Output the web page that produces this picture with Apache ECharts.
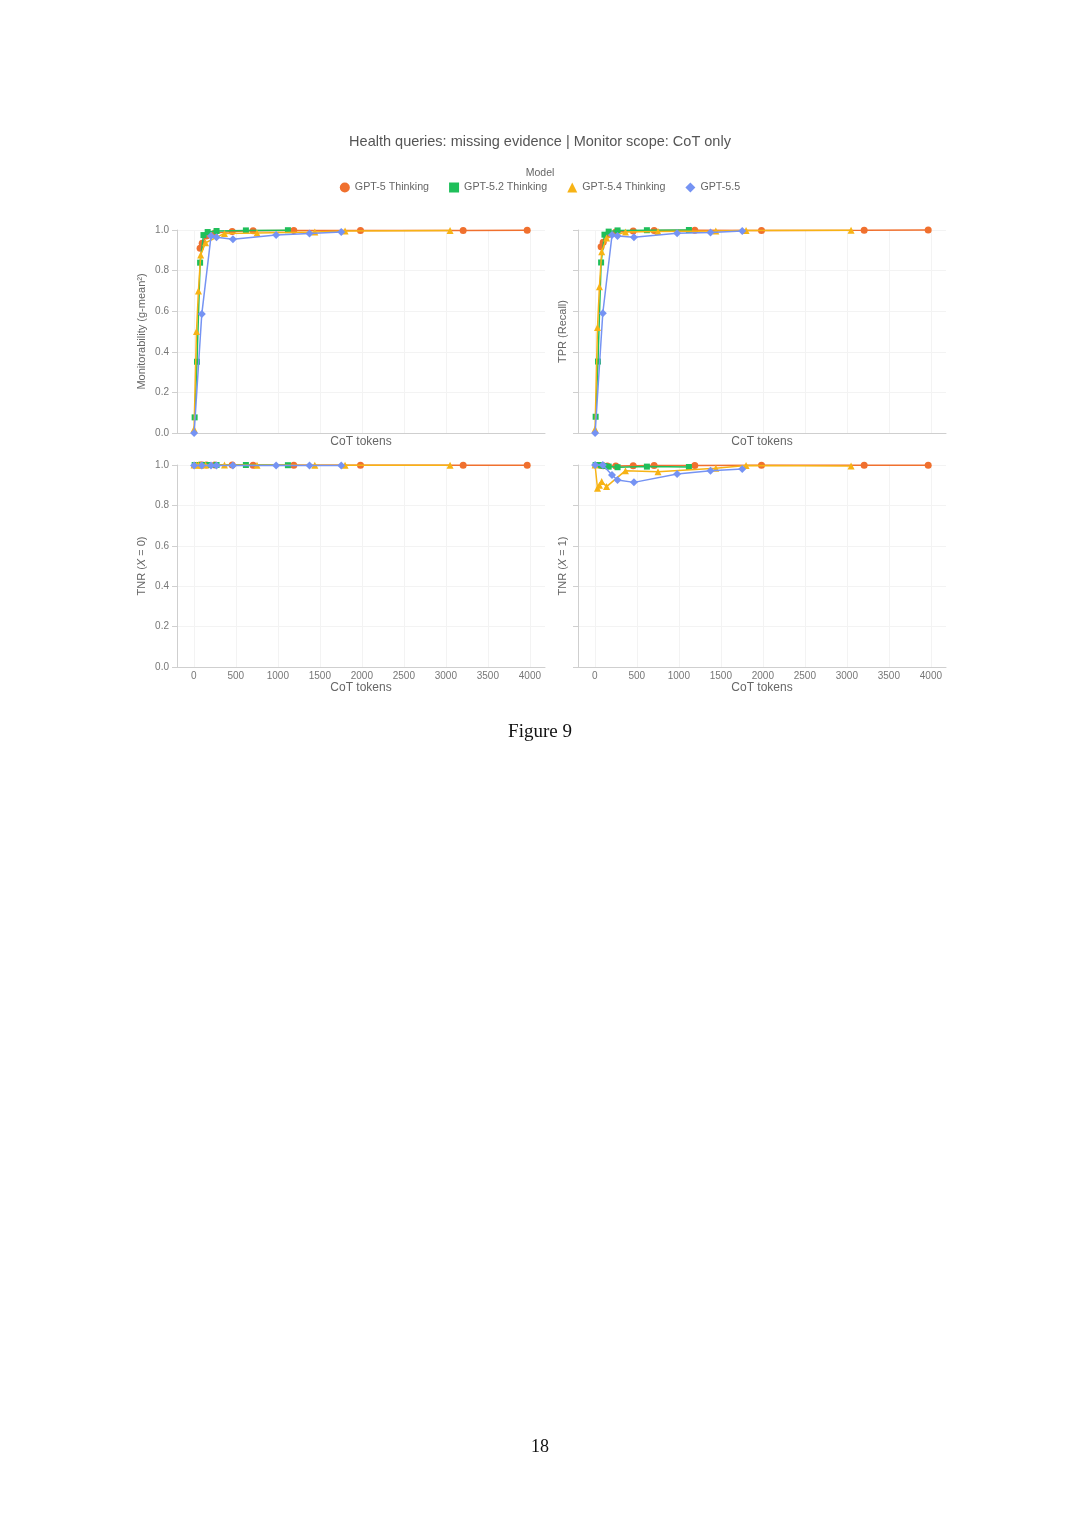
<!DOCTYPE html>
<html>
<head>
<meta charset="utf-8">
<script src="https://cdn.jsdelivr.net/npm/echarts@6/dist/echarts.min.js"></script>
<style>
html,body{margin:0;padding:0;background:#fff;}
#chart{width:1080px;height:1527px;}
</style>
</head>
<body>
<div id="chart"></div>
<script>
// ---- data ----
const modelNames = ['GPT-5 Thinking', 'GPT-5.2 Thinking', 'GPT-5.4 Thinking', 'GPT-5.5'];
const xTickValues = [0, 500, 1000, 1500, 2000, 2500, 3000, 3500, 4000];
const yTickValues = [0, 0.2, 0.4, 0.6, 0.8, 1.0];

// GPT-5 Thinking
const tokens5 = [75, 100, 150, 250, 457, 706, 1190, 1984, 3206, 3968];
const mon5    = [0.91, 0.935, 0.97, 0.985, 0.993, 0.996, 0.998, 0.997, 0.998, 0.999];
const tpr5    = [0.918, 0.94, 0.975, 0.99, 0.995, 0.998, 0.999, 0.998, 0.999, 1.0];
const tnr0_5  = [1.0, 1.0, 1.0, 1.0, 1.0, 0.999, 0.999, 0.999, 0.999, 0.999];
const tnr1_5  = [0.998, 0.996, 0.995, 0.995, 0.996, 0.997, 0.998, 0.999, 0.999, 0.999];

// GPT-5.2 Thinking
const tokens52 = [10, 38, 75, 115, 165, 271, 620, 1120];
const mon52    = [0.077, 0.351, 0.839, 0.975, 0.99, 0.995, 0.998, 0.999];
const tpr52    = [0.08, 0.352, 0.84, 0.977, 0.992, 0.998, 0.999, 1.0];
const tnr0_52  = [1.0, 1.0, 1.0, 1.0, 1.0, 1.0, 1.0, 0.999];
const tnr1_52  = [1.0, 1.0, 0.998, 0.995, 0.992, 0.989, 0.992, 0.99];

// GPT-5.4 Thinking
const tokens54 = [3, 32, 55, 82, 140, 365, 752, 1440, 1800, 3050];
const mon54    = [0.02, 0.50, 0.70, 0.877, 0.937, 0.983, 0.985, 0.99, 0.995, 0.997];
const tpr54    = [0.02, 0.52, 0.72, 0.893, 0.96, 0.99, 0.992, 0.995, 0.998, 0.999];
const tnr0_54  = [1.0, 1.0, 1.0, 1.0, 1.0, 1.0, 0.999, 0.999, 0.999, 0.999];
const tnr1_54  = [1.0, 0.885, 0.90, 0.918, 0.893, 0.972, 0.967, 0.984, 0.997, 0.995];

// GPT-5.5
const tokens55 = [4, 95, 205, 270, 466, 980, 1377, 1755];
const mon55    = [0.0, 0.586, 0.97, 0.964, 0.955, 0.975, 0.983, 0.99];
const tpr55    = [0.0, 0.59, 0.975, 0.97, 0.964, 0.984, 0.988, 0.995];
const tnr0_55  = [0.998, 0.997, 0.997, 0.997, 0.997, 0.997, 0.997, 0.997];
const tnr1_55  = [1.0, 1.0, 0.95, 0.926, 0.914, 0.955, 0.972, 0.98];

// ---- styling ----
const FONT = 'Liberation Sans, Arial, Helvetica, sans-serif';
const colors = ['#F0702E', '#1FBF5A', '#F7B315', '#7593F3'];
const symbols = ['circle', 'rect', 'triangle', 'diamond'];
const symbolSizes = [7, 6, 7, 8];

const tokensByModel = [tokens5, tokens52, tokens54, tokens55];
const panels = [
  { vals: [mon5, mon52, mon54, mon55], name: 'Monitorability (g-mean²)', left: 177, top: 230, h: 203, labels: false, yLabels: true, gap: 30 },
  { vals: [tpr5, tpr52, tpr54, tpr55], name: 'TPR (Recall)', left: 578, top: 230, h: 203, labels: false, yLabels: false, gap: 10 },
  { vals: [tnr0_5, tnr0_52, tnr0_54, tnr0_55], name: 'TNR ({i|X} = 0)', left: 177, top: 465, h: 202, labels: true, yLabels: true, gap: 30 },
  { vals: [tnr1_5, tnr1_52, tnr1_54, tnr1_55], name: 'TNR ({i|X} = 1)', left: 578, top: 465, h: 202, labels: true, yLabels: false, gap: 10 }
];

const grids = [], xAxes = [], yAxes = [], series = [];
panels.forEach((p, i) => {
  grids.push({ left: p.left, top: p.top, width: 368, height: p.h, containLabel: false });
  xAxes.push({
    gridIndex: i, type: 'value', min: -200, max: 4180,
    axisLine: { show: true, onZero: false, lineStyle: { color: '#cfcfcf', width: 1 } },
    axisTick: { show: false, customValues: xTickValues },
    axisLabel: { show: p.labels, customValues: xTickValues, formatter: v => String(v),
      fontSize: 10, color: '#777', margin: 4, fontFamily: FONT },
    splitLine: { show: true, lineStyle: { color: '#f3f3f3', width: 1 } },
    name: 'CoT tokens', nameLocation: 'middle', nameGap: p.labels ? 15 : 3,
    nameTextStyle: { fontSize: 12, color: '#666', fontFamily: FONT }
  });
  yAxes.push({
    gridIndex: i, type: 'value', min: 0, max: 1, interval: 0.2,
    axisLine: { show: true, onZero: false, lineStyle: { color: '#cfcfcf', width: 1 } },
    axisTick: { show: true, length: 5, lineStyle: { color: '#cfcfcf' } },
    axisLabel: { show: p.yLabels, formatter: v => v.toFixed(1), fontSize: 10, color: '#777', margin: 8, fontFamily: FONT },
    splitLine: { show: true, lineStyle: { color: '#f3f3f3', width: 1 } },
    name: p.name, nameLocation: 'middle', nameGap: p.gap,
    nameTextStyle: { fontSize: 11, color: '#666', fontFamily: FONT,
      rich: { i: { fontStyle: 'italic', fontSize: 11, color: '#666', fontFamily: FONT } } }
  });
  modelNames.forEach((m, k) => {
    series.push({
      name: m, type: 'line', xAxisIndex: i, yAxisIndex: i,
      data: tokensByModel[k].map((t, j) => [t, p.vals[k][j]]),
      symbol: symbols[k], symbolSize: symbolSizes[k], showSymbol: true,
      lineStyle: { color: colors[k], width: 1.5 },
      itemStyle: { color: colors[k] },
      emphasis: { disabled: true },
      z: 2 + k, clip: false, animation: false
    });
  });
});

const chart = echarts.init(document.getElementById('chart'), null, { renderer: 'canvas' });
chart.setOption({
  backgroundColor: '#ffffff',
  animation: false,
  color: colors,
  textStyle: { fontFamily: FONT },
  title: [
    { text: 'Health queries: missing evidence | Monitor scope: CoT only', left: 'center', top: 129,
      textStyle: { fontSize: 14.5, fontWeight: 'normal', color: '#555', fontFamily: FONT } },
    { text: 'Model', left: 'center', top: 163,
      textStyle: { fontSize: 10.5, fontWeight: 'normal', color: '#666', fontFamily: FONT } },
    { text: 'Figure 9', left: 'center', top: 718,
      textStyle: { fontSize: 19, fontWeight: 'normal', color: '#111', fontFamily: 'Liberation Serif, DejaVu Serif, serif' } },
    { text: '18', left: 'center', top: 1433,
      textStyle: { fontSize: 18, fontWeight: 'normal', color: '#111', fontFamily: 'Liberation Serif, DejaVu Serif, serif' } }
  ],
  legend: {
    data: modelNames.map((m, k) => ({ name: m, icon: symbols[k] })),
    left: 'center', top: 177, itemWidth: 10, itemHeight: 10, itemGap: 20, itemTextGap: 7,
    textStyle: { fontSize: 10.7, color: '#666', fontFamily: FONT }
  },
  grid: grids, xAxis: xAxes, yAxis: yAxes, series: series
});
</script>
</body>
</html>
